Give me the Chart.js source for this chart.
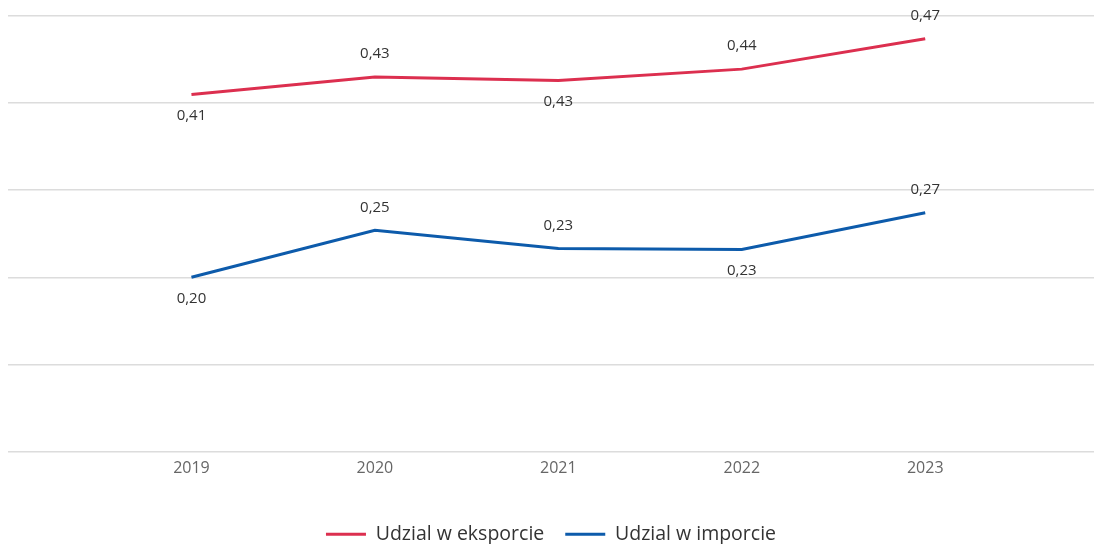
<!DOCTYPE html>
<html>
<head>
  <meta charset="UTF-8">
  <title>Udzial w eksporcie i imporcie</title>
  <script src="https://cdn.jsdelivr.net/npm/chart.js"></script>
  <style>
    body { margin: 0; background: #fff; }
    #wrap { width: 1094px; height: 544px; }
  </style>
</head>
<body>
  <div id="wrap"><canvas id="chart" width="1094" height="544"></canvas></div>
  <script>
    // data
    const years = [2019, 2020, 2021, 2022, 2023];
    const exportShare = [0.41, 0.43, 0.426, 0.439, 0.474];
    const importShare = [0.20, 0.254, 0.233, 0.232, 0.274];
    const seriesNames = ['Udzial w eksporcie', 'Udzial w imporcie'];

    // where each value label sits relative to its point
    const labelSide = [
      ['below', 'above', 'below', 'above', 'above'],
      ['below', 'above', 'above', 'below', 'above']
    ];

    const pointLabels = {
      id: 'pointLabels',
      afterDatasetsDraw(chart) {
        const ctx = chart.ctx;
        ctx.save();
        ctx.font = '15px "Open Sans", sans-serif';
        ctx.fillStyle = '#333';
        ctx.textAlign = 'center';
        ctx.textBaseline = 'middle';
        chart.data.datasets.forEach((ds, i) => {
          chart.getDatasetMeta(i).data.forEach((pt, j) => {
            const v = ds.data[j].y;
            const dy = labelSide[i][j] === 'above' ? -23 : 21;
            ctx.fillText(v.toFixed(2).replace('.', ','), pt.x, pt.y + dy);
          });
        });
        ctx.restore();
      }
    };

    const toPoints = arr => arr.map((v, i) => ({ x: years[i], y: v }));

    new Chart(document.getElementById('chart'), {
      type: 'line',
      data: {
        datasets: [{
          label: seriesNames[0],
          data: toPoints(exportShare),
          borderColor: '#dc2f4f',
          backgroundColor: '#dc2f4f',
          borderWidth: 3,
          pointRadius: 0,
          tension: 0
        }, {
          label: seriesNames[1],
          data: toPoints(importShare),
          borderColor: '#0d5bab',
          backgroundColor: '#0d5bab',
          borderWidth: 3,
          pointRadius: 0,
          tension: 0
        }]
      },
      options: {
        responsive: false,
        animation: false,
        layout: { padding: { left: 8, right: 0, top: 16, bottom: -10 } },
        scales: {
          x: {
            type: 'linear',
            min: 2018,
            max: 2023.92,
            afterBuildTicks: axis => { axis.ticks = years.map(y => ({ value: y })); },
            afterFit: axis => { axis.height = 52; },
            ticks: {
              callback: v => String(v),
              color: '#666',
              font: { family: 'Open Sans', size: 16 },
              padding: 7,
              maxRotation: 0
            },
            grid: { display: false, drawTicks: false },
            border: { display: false }
          },
          y: {
            min: 0,
            max: 0.5,
            ticks: { display: false, stepSize: 0.1 },
            grid: { color: '#dcdcdc', lineWidth: 1.5, drawTicks: false },
            border: { display: false }
          }
        },
        plugins: {
          legend: {
            position: 'bottom',
            labels: {
              boxWidth: 40,
              boxHeight: 3,
              color: '#333',
              font: { family: 'Open Sans', size: 19.5 },
              padding: 21,
              generateLabels: chart => Chart.defaults.plugins.legend.labels.generateLabels(chart)
                .map(item => Object.assign(item, { lineWidth: 0 }))
            }
          },
          tooltip: { enabled: false }
        }
      },
      plugins: [pointLabels]
    });
  </script>
</body>
</html>
